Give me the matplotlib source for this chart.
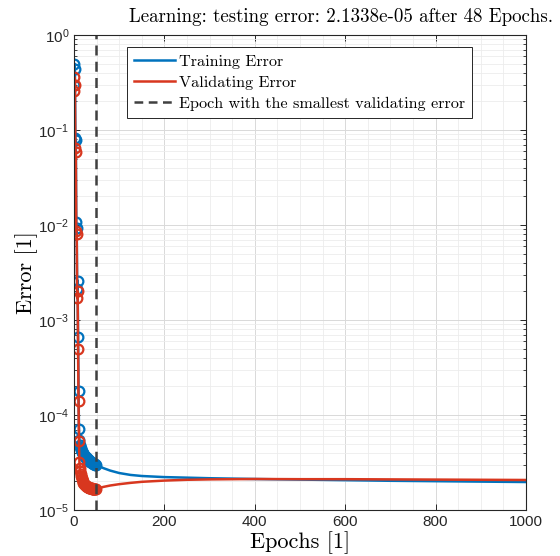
import matplotlib
matplotlib.use("Agg")
import matplotlib.pyplot as plt
from matplotlib.ticker import LogLocator, MultipleLocator, FixedLocator, NullFormatter, LogFormatterSciNotation

plt.rcParams['mathtext.fontset'] = 'custom'
plt.rcParams['mathtext.rm'] = 'Liberation Sans'
plt.rcParams['mathtext.it'] = 'Liberation Sans:italic'
plt.rcParams['mathtext.bf'] = 'Liberation Sans:bold'
plt.rcParams['font.family'] = ['Liberation Sans', 'DejaVu Sans']

# ---- data ----
best_epoch = 48
title_text = "Learning: testing error: 2.1338e-05 after 48 Epochs."

# epochs 0..48 (drawn with markers)
train_early = [0.30, 0.50, 0.44, 0.083, 0.079, 0.0108, 0.0093, 0.0021, 0.0026, 0.00066,
               0.00018, 7.2e-5, 5.5e-5,
               4.8e-5, 4.6e-5, 4.45e-5, 4.32e-5, 4.2e-5, 4.1e-5, 4.0e-5, 3.92e-5, 3.85e-5,
               3.78e-5, 3.72e-5, 3.67e-5, 3.62e-5, 3.57e-5, 3.53e-5, 3.49e-5, 3.45e-5,
               3.42e-5, 3.38e-5, 3.35e-5, 3.32e-5, 3.29e-5, 3.26e-5, 3.23e-5, 3.21e-5,
               3.18e-5, 3.16e-5, 3.14e-5, 3.12e-5, 3.10e-5, 3.08e-5, 3.06e-5, 3.04e-5,
               3.02e-5, 3.00e-5, 2.98e-5]
valid_early = [0.26, 0.36, 0.30, 0.065, 0.058, 0.0086, 0.0080, 0.0017, 0.0020, 0.00050,
               0.00014, 5.3e-5, 3.2e-5,
               2.75e-5, 2.55e-5, 2.4e-5, 2.28e-5, 2.18e-5, 2.1e-5, 2.03e-5, 1.98e-5, 1.94e-5,
               1.90e-5, 1.87e-5, 1.84e-5, 1.82e-5, 1.80e-5, 1.78e-5, 1.77e-5, 1.76e-5,
               1.75e-5, 1.74e-5, 1.73e-5, 1.72e-5, 1.71e-5, 1.71e-5, 1.70e-5, 1.70e-5,
               1.69e-5, 1.69e-5, 1.68e-5, 1.68e-5, 1.68e-5, 1.67e-5, 1.67e-5, 1.67e-5,
               1.66e-5, 1.66e-5, 1.66e-5]
epochs_early = list(range(len(train_early)))

# epochs after the best epoch (line only)
tail_epochs = [48, 55, 65, 80, 100, 125, 150, 200, 250, 300, 400, 500, 600, 700, 800, 900, 1000]
train_tail = [2.98e-5, 2.9e-5, 2.76e-5, 2.6e-5, 2.45e-5, 2.34e-5, 2.28e-5, 2.22e-5, 2.19e-5,
              2.16e-5, 2.12e-5, 2.09e-5, 2.06e-5, 2.03e-5, 2.01e-5, 1.99e-5, 1.97e-5]
valid_tail = [1.66e-5, 1.70e-5, 1.75e-5, 1.81e-5, 1.87e-5, 1.93e-5, 1.98e-5, 2.04e-5, 2.08e-5,
              2.10e-5, 2.12e-5, 2.11e-5, 2.11e-5, 2.10e-5, 2.09e-5, 2.08e-5, 2.07e-5]

x_ticks = [0, 200, 400, 600, 800, 1000]

blue = '#0072BD'
red = '#D8371F'

fig = plt.figure(figsize=(5.6, 5.56), dpi=100)
ax = fig.add_axes([74/560, 1 - 510/556, 452/560, 475/556])

mk = dict(marker='o', markersize=7, fillstyle='none', markeredgewidth=1.6)
ax.plot(epochs_early, train_early, color=blue, lw=1.8, **mk)
ax.plot(tail_epochs, train_tail, color=blue, lw=1.8)
ax.plot(epochs_early, valid_early, color=red, lw=1.8, **mk)
ax.plot(tail_epochs, valid_tail, color=red, lw=1.8)
ax.axvline(best_epoch, color='#404040', lw=1.8, ls=(0, (4, 2.5)))

# legend proxies
h1, = ax.plot([], [], color=blue, lw=1.8, label='Training Error')
h2, = ax.plot([], [], color=red, lw=1.8, label='Validating Error')
h3, = ax.plot([], [], color='#404040', lw=1.8, ls=(0, (3.5, 2.2)),
              label='Epoch with the smallest validating error')

ax.set_yscale('log')
ax.set_xlim(0, 1000)
ax.set_ylim(1e-5, 1)
ax.xaxis.set_major_locator(FixedLocator(x_ticks))
ax.xaxis.set_minor_locator(MultipleLocator(50))
ax.yaxis.set_major_locator(LogLocator(base=10, numticks=10))
ax.yaxis.set_minor_locator(LogLocator(base=10, subs=range(2, 10), numticks=20))
ax.yaxis.set_minor_formatter(NullFormatter())
ax.yaxis.set_major_formatter(LogFormatterSciNotation())

ax.grid(which='major', color='#d9d9d9', lw=0.7)
ax.grid(which='minor', color='#ececec', lw=0.6)
ax.set_axisbelow(True)

ax.tick_params(which='both', direction='in', top=True, right=True, colors='#262626',
               labelsize=11, labelcolor='#262626')
ax.tick_params(which='major', length=4, width=0.7)
ax.tick_params(which='minor', length=2.5, width=0.6)
ax.tick_params(axis='x', which='minor', length=0)
for s in ax.spines.values():
    s.set_color('#262626')
    s.set_linewidth(0.8)

serif = ['cmr10', 'DejaVu Serif']
ax.set_xlabel('Epochs [1]', family=serif, fontsize=16, labelpad=2)
ax.set_ylabel('Error [1]', family=serif, fontsize=16, labelpad=0)
fig.text(553/560, 1 - 17/556, title_text, family=serif, fontsize=13.6, ha='right', va='center')

leg = ax.legend(handles=[h1, h2, h3], loc='upper left', bbox_to_anchor=(0.117, 0.975),
                borderaxespad=0, prop={'family': serif, 'size': 11.7}, fancybox=False,
                framealpha=1, edgecolor='#262626', handlelength=2.5, handletextpad=0.25,
                labelspacing=0.42, borderpad=0.45)
leg.get_frame().set_linewidth(0.7)

fig.savefig('out.png', dpi=100)
